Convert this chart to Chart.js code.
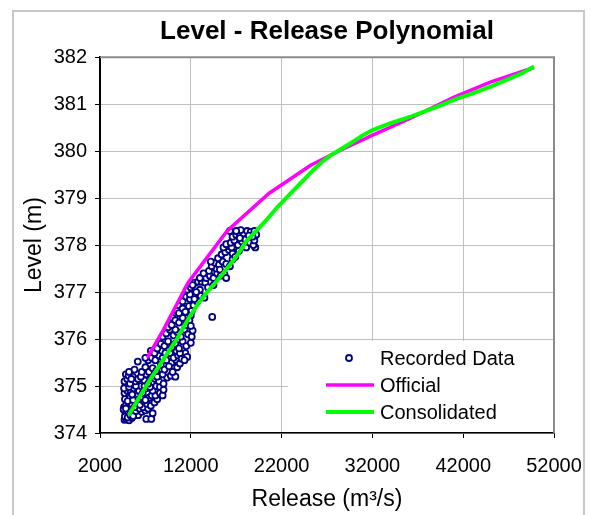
<!DOCTYPE html>
<html>
<head>
<meta charset="utf-8">
<script src="https://cdn.jsdelivr.net/npm/chart.js@4.4.1/dist/chart.umd.min.js"></script>
<style>
  body { margin: 0; background: #fff; }
  canvas { display: block; }
</style>
</head>
<body>
<canvas id="chart" width="591" height="515"></canvas>
<script>
// release (m3/s), level (m)
const recordedData = [
  [4700,374.28],[4900,374.3],[5200,374.27],[5500,374.32],[7100,374.3],[7650,374.3],[4800,374.4],[5100,374.42],[5400,374.45],[5800,374.4],[6200,374.38],[6600,374.45],[7000,374.48],
  [4750,374.35],[5050,374.33],[5350,374.38],[5650,374.36],[5950,374.47],[6350,374.52],[6750,374.55],[7300,374.52],[7800,374.42],
  [4650,374.55],[4900,374.6],[5200,374.58],[5500,374.62],[5800,374.55],[6100,374.65],[6400,374.6],[6800,374.68],[7200,374.62],[7600,374.58],[8000,374.65],[4750,374.72],[5300,374.75],[6000,374.78],[7400,374.75],[8300,374.72],
  [4600,374.5],[4850,374.52],[5050,374.68],[5650,374.7],[6250,374.72],[6600,374.77],[7000,374.7],[7700,374.8],[8100,374.8],
  [4700,374.85],[5000,374.9],[5400,374.88],[5700,374.95],[6300,374.9],[6700,374.85],[7100,374.95],[7800,374.9],[8600,374.85],[8900,374.8],[4800,375.0],[6500,375.0],[8200,375.0],
  [4650,374.95],[5200,374.98],[5550,374.82],[5950,375.0],[6900,375.0],[7500,374.98],[8600,374.98],[9000,374.92],
  [4700,375.1],[5000,375.15],[5300,375.05],[5600,375.2],[5900,375.1],[6200,375.15],[6900,375.12],[7300,375.05],[7700,375.2],[8100,375.15],[8500,375.1],[9000,375.05],[9400,375.18],[9800,375.22],[10300,375.2],[4850,375.25],
  [5150,375.22],[5450,375.15],[6500,375.2],[7100,375.25],[8300,375.2],[8900,375.25],[9200,375.45],[9900,375.5],[10400,375.55],
  [5200,375.3],[5800,375.35],[6160,375.52],[6600,375.3],[7000,375.4],[7400,375.3],[7800,375.38],[8200,375.32],[8700,375.45],[9100,375.35],[9600,375.42],[10000,375.3],[10500,375.4],[10800,375.48],
  [7300,375.55],[7700,375.6],[8100,375.55],[8500,375.65],[8900,375.6],[9300,375.55],[9700,375.7],[10100,375.6],[10600,375.65],[11000,375.58],[11400,375.7],[11600,375.62],
  [7000,375.6],[7600,375.75],[8000,375.7],[8800,375.75],[9200,375.7],[10400,375.75],[10800,375.7],[11300,375.55],
  [8300,375.8],[8700,375.9],[9100,375.85],[9500,375.95],[9900,375.82],[10300,375.9],[10700,375.8],[11100,375.95],[11500,375.85],[12000,375.92],
  [8900,376.05],[9300,376.12],[9700,376.2],[10100,376.08],[10500,376.15],[10900,376.05],[11300,376.2],[11700,376.1],[12100,376.05],[12200,376.18],
  [9500,376.25],[10000,376.45],[10500,376.6],[10300,376.2],[11400,376.45],[12000,376.5],
  [9900,376.3],[10300,376.4],[10700,376.35],[11100,376.45],[11500,376.3],[11850,376.4],[12000,376.28],[14360,376.47],
  [10700,376.55],[11100,376.65],[11400,376.58],[11800,376.7],[12100,376.6],[12300,376.72],
  [11100,376.8],[11500,376.9],[11900,376.85],[12300,376.95],[12700,376.8],[13100,376.92],[13500,376.88],[11900,376.95],[12400,376.85],
  [11600,377.05],[12000,377.1],[12400,377.2],[12800,377.22],[13200,377.22],[13600,377.2],[13000,377.05],[13900,377.1],[12600,377.0],[12200,377.15],[14500,377.15],
  [13700,377.3],[14100,377.35],[14500,377.3],[14900,377.4],[15300,377.35],[15700,377.38],[14000,377.45],[14800,377.5],[15900,377.3],[13000,377.3],[13400,377.4],
  [14300,377.55],[14700,377.62],[15100,377.58],[15500,377.65],[15900,377.6],[16300,377.55],[16600,377.7],[15000,377.72],[14200,377.65],[15200,377.48],
  [15400,377.8],[15800,377.85],[16200,377.9],[16600,377.82],[17000,377.95],[17300,377.88],[16000,377.98],[16900,377.75],[15600,377.95],[16500,377.95],[18100,377.95],[19100,377.95],
  [15900,378.02],[16400,378.05],[16800,378.1],[17200,378.0],[17600,378.08],[18000,378.12],[18500,378.05],[18900,378.0],[19000,378.1],
  [16600,378.18],[17000,378.22],[17400,378.2],[17800,378.25],[18200,378.3],[18600,378.28],[19000,378.3],[19200,378.22],[17500,378.32],[18800,378.18],
  [17400,378.15],[18400,378.2],[16300,378.3],[17000,378.3]
];

const officialRelease = [7200, 9000, 11700, 16000, 20600, 25200, 28600, 31900, 36200, 41000, 45000, 49800];
const officialLevel   = [375.6, 376.2, 377.2, 378.3, 379.1, 379.7, 380.03, 380.33, 380.7, 381.15, 381.47, 381.78];

const consolidatedRelease = [5170, 6300, 7470, 8600, 9500, 10420, 11200, 11850, 12800, 13800, 14800, 15900, 17000, 18100, 19200, 20400,
  21500, 22500, 23500, 24500, 25500, 26500, 27500, 28600, 29700, 30800, 31900, 33000, 34100, 35200, 36300, 37400, 38500, 39600,
  40700, 41800, 42900, 44000, 45100, 46200, 47300, 48400, 49800];
const consolidatedLevel = [374.38, 374.75, 375.12, 375.45, 375.72, 375.98, 376.25, 376.47, 376.75, 377.0, 377.22, 377.48, 377.75, 378.08, 378.3, 378.55,
  378.8, 379.0, 379.2, 379.4, 379.6, 379.78, 379.92, 380.05, 380.18, 380.32, 380.44, 380.52, 380.6, 380.67, 380.74, 380.82, 380.9, 380.98,
  381.07, 381.15, 381.22, 381.3, 381.38, 381.47, 381.56, 381.65, 381.8];

const xTicks = [2000, 12000, 22000, 32000, 42000, 52000];
const yTicks = [374, 375, 376, 377, 378, 379, 380, 381, 382];

const FONT = '"Liberation Sans", Arial, sans-serif';

function toPoints(xs, ys) { return xs.map((x, i) => ({ x: x, y: ys[i] })); }

// white page with the light grey frame round the whole chart
const pageFrame = {
  id: 'pageFrame',
  beforeDraw(chart) {
    const ctx = chart.ctx;
    ctx.save();
    ctx.fillStyle = '#fff';
    ctx.fillRect(0, 0, chart.width, chart.height);
    ctx.strokeStyle = '#c8c8c8';
    ctx.lineWidth = 2;
    ctx.strokeRect(13, 11, 571, chart.height + 10);
    ctx.restore();
  }
};

// grey top/right edge of the plot area
const plotFrame = {
  id: 'plotFrame',
  beforeDatasetsDraw(chart) {
    const a = chart.chartArea, ctx = chart.ctx;
    ctx.save();
    ctx.strokeStyle = '#8a8a8a';
    ctx.lineWidth = 2;
    ctx.beginPath();
    ctx.moveTo(a.left, a.top);
    ctx.lineTo(a.right, a.top);
    ctx.lineTo(a.right, a.bottom);
    ctx.stroke();
    ctx.restore();
  }
};

// legend sitting inside the plot, bottom right
const boxLegend = {
  id: 'boxLegend',
  afterDatasetsDraw(chart) {
    const a = chart.chartArea, ctx = chart.ctx;
    const left = a.right - 266, top = a.bottom - 92;
    ctx.save();
    ctx.fillStyle = '#fff';
    ctx.fillRect(left, top, a.right - left - 1, a.bottom - top - 1);
    ctx.font = '20px ' + FONT;
    ctx.fillStyle = '#000';
    ctx.textBaseline = 'middle';
    chart.data.datasets.forEach((ds, i) => {
      const y = top + 17 + i * 27;
      if (ds.showLine) {
        ctx.strokeStyle = ds.borderColor;
        ctx.lineWidth = ds.borderWidth;
        ctx.beginPath();
        ctx.moveTo(left + 38, y);
        ctx.lineTo(left + 86, y);
        ctx.stroke();
      } else {
        ctx.strokeStyle = ds.borderColor;
        ctx.fillStyle = '#fff';
        ctx.lineWidth = ds.borderWidth;
        ctx.beginPath();
        ctx.arc(left + 61, y, ds.pointRadius, 0, Math.PI * 2);
        ctx.fill();
        ctx.stroke();
        ctx.fillStyle = '#000';
      }
      ctx.fillText(ds.label, left + 92, y + 1);
    });
    ctx.restore();
  }
};

new Chart(document.getElementById('chart'), {
  type: 'scatter',
  data: {
    datasets: [
      {
        label: 'Recorded Data',
        data: recordedData.map(p => ({ x: p[0], y: p[1] })),
        showLine: false,
        pointRadius: 3,
        pointBorderWidth: 1.8,
        borderWidth: 1.8,
        borderColor: '#000080',
        backgroundColor: '#fff',
        order: 3
      },
      {
        label: 'Official',
        data: toPoints(officialRelease, officialLevel),
        showLine: true,
        pointRadius: 0,
        borderColor: '#ff00ff',
        borderWidth: 3.5,
        order: 2
      },
      {
        label: 'Consolidated',
        data: toPoints(consolidatedRelease, consolidatedLevel),
        showLine: true,
        pointRadius: 0,
        borderColor: '#00ff00',
        borderWidth: 4,
        order: 1
      }
    ]
  },
  options: {
    responsive: false,
    animation: false,
    events: [],
    layout: { padding: { left: 0, right: 37, top: 0, bottom: 0 } },
    plugins: {
      legend: { display: false },
      tooltip: { enabled: false },
      title: {
        display: true,
        text: 'Level - Release Polynomial',
        fullSize: false,
        color: '#000',
        font: { family: FONT, size: 26, weight: 'bold' },
        padding: { top: 16, bottom: 10 }
      }
    },
    scales: {
      x: {
        type: 'linear',
        min: xTicks[0],
        max: xTicks[xTicks.length - 1],
        afterBuildTicks: s => { s.ticks = xTicks.map(v => ({ value: v })); },
        afterFit: s => { s.height = 82; },
        ticks: { callback: v => String(v), color: '#000', font: { family: FONT, size: 20, lineHeight: '40px' }, padding: 8, maxRotation: 0 },
        grid: { color: '#c0c0c0', lineWidth: 1, tickColor: '#000', tickLength: 5 },
        border: { color: '#000', width: 1.5 },
        title: { display: true, text: 'Release (m³/s)', color: '#000', font: { family: FONT, size: 23, lineHeight: '30px' }, padding: { top: 0, bottom: 0 } }
      },
      y: {
        type: 'linear',
        min: yTicks[0],
        max: yTicks[yTicks.length - 1],
        afterBuildTicks: s => { s.ticks = yTicks.map(v => ({ value: v })); },
        afterFit: s => { s.width = 100; },
        ticks: { callback: v => String(v), color: '#000', font: { family: FONT, size: 20 }, padding: 8 },
        grid: { color: '#c0c0c0', lineWidth: 1, tickColor: '#000', tickLength: 5 },
        border: { color: '#000', width: 2 },
        title: { display: true, text: 'Level (m)', color: '#000', font: { family: FONT, size: 23 }, padding: { top: 21, bottom: 0 } }
      }
    }
  },
  plugins: [pageFrame, plotFrame, boxLegend]
});
</script>
</body>
</html>
